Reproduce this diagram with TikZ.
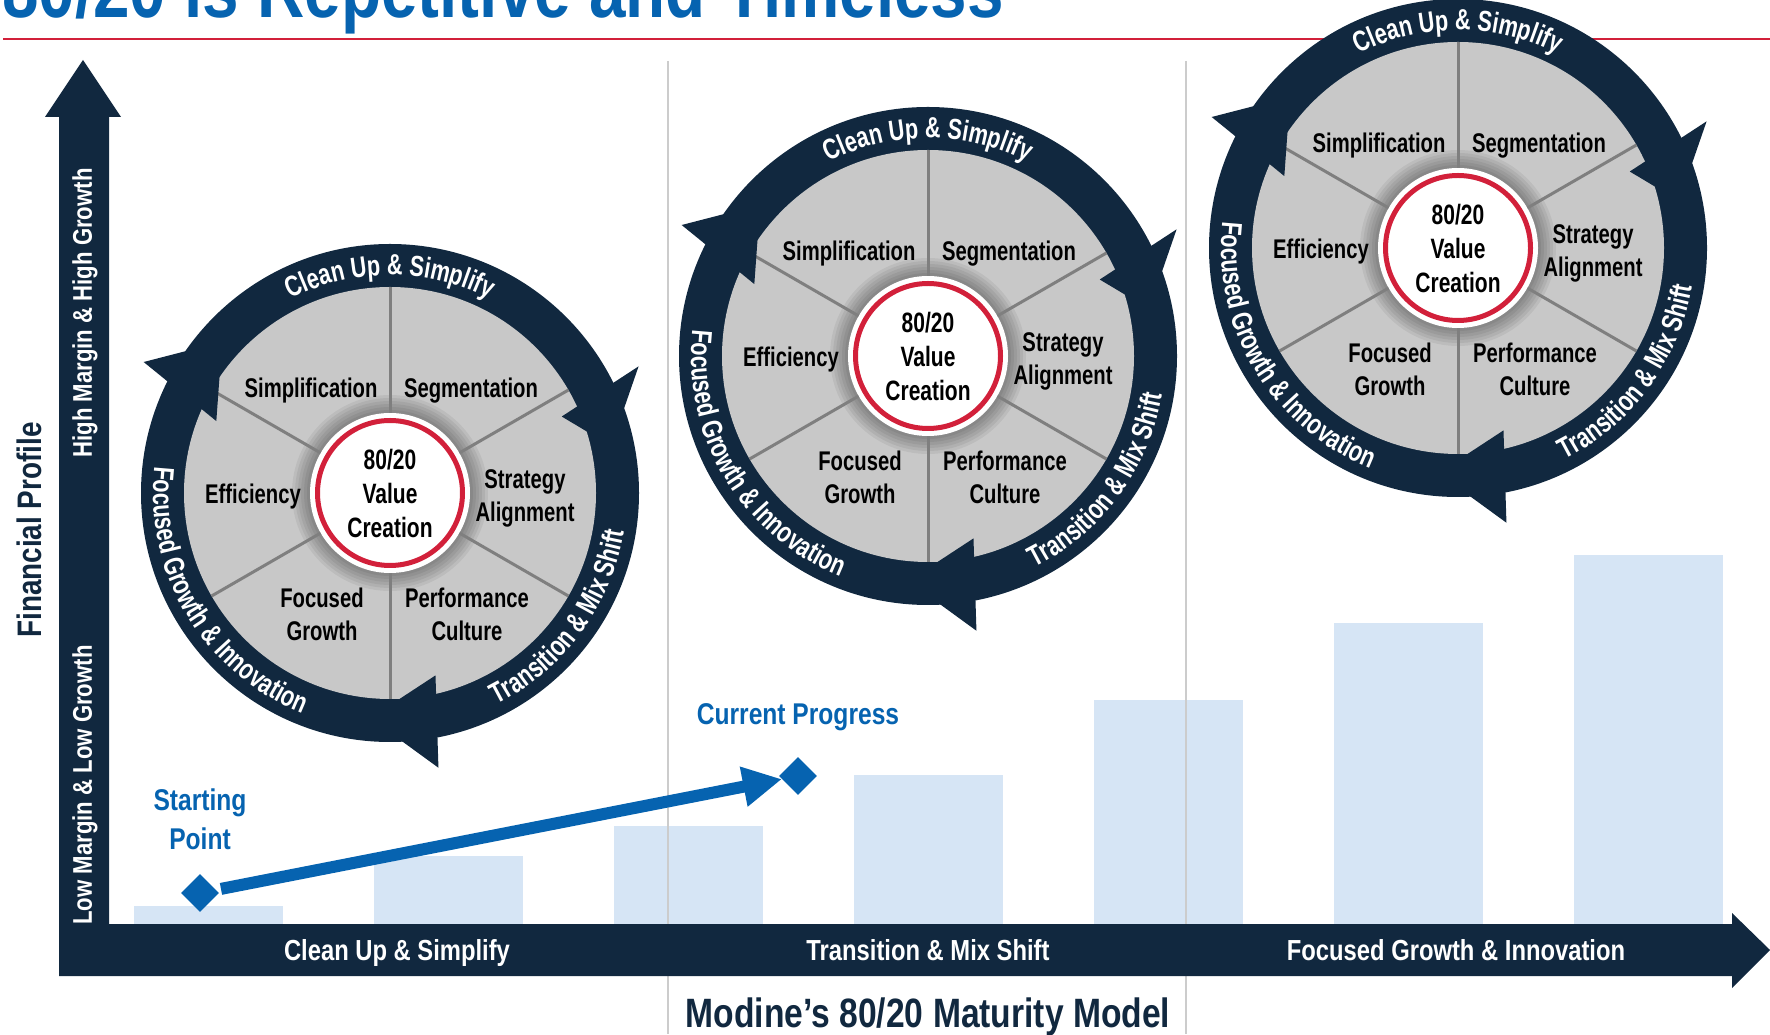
\documentclass[tikz,border=0pt]{standalone}
\usepackage{fontspec}
\newfontfamily\wheelface{Liberation Sans}[FakeStretch=0.75]
\newfontfamily\axisface{Liberation Sans}[FakeStretch=0.82]
\usetikzlibrary{positioning,shapes.geometric,arrows.meta}
\definecolor{navy}{HTML}{11283F}
\definecolor{mblue}{HTML}{0663B0}
\definecolor{mred}{HTML}{D2203A}
\definecolor{barblue}{HTML}{D6E5F5}
\definecolor{disk}{HTML}{C8C8C8}
\definecolor{spokegray}{HTML}{7F7F7F}
\definecolor{sepgray}{HTML}{CCCCCC}
\newcommand{\ringfont}{\wheelface\bfseries\fontsize{29}{29}\selectfont}
\newdimen\rimw
\newdimen\rimpos
\newdimen\rimmid
\makeatletter
\newcommand{\rimprep}[2]{%
  \setbox\@tempboxa\hbox{\ringfont #2}\rimw=\wd\@tempboxa
  \rimpos=-0.5\rimw
  \def\rimacc{}%
  \@tfor\rimch:=#2\do{%
    \setbox\@tempboxa\hbox{\ringfont\rimch}\rimw=\wd\@tempboxa
    \rimmid=\rimpos \advance\rimmid by 0.5\rimw
    \edef\rimacc{\rimacc\ifx\rimacc\@empty\else,\fi\expandafter\noexpand\rimch/\strip@pt\rimmid}%
    \advance\rimpos by \rimw
  }%
  \global\let#1\rimacc}
\makeatother
\newcommand{\rimrun}[4]{%
  \foreach \ch/\off in #4 {%
    \pgfmathsetmacro\rimang{#2-(#3)*\off/#1*57.29578}%
    \node[rimchar, rotate=\rimang-(#3)*90] at (\rimang:#1) {\ch};
  }}
\AtBeginDocument{%
  \rimprep{\rimtop}{Clean~Up~\&~Simplify}%
  \rimprep{\rimright}{Transition~\&~Mix~Shift}%
  \rimprep{\rimleft}{Focused~Growth~\&~Innovation}}

\begin{document}
\begin{tikzpicture}[x=1pt, y=1pt,
    seg/.style = {align=center, inner sep=0, font=\wheelface\bfseries\fontsize{27}{33}\selectfont},
    hub/.style = {circle, fill=white, minimum size=160pt, align=center, inner sep=0, font=\wheelface\bfseries\fontsize{28}{34}\selectfont},
    spoke/.style = {draw=spokegray, line width=3pt},
    rimchar/.style = {anchor=base, inner sep=0, text=white, font=\ringfont},
    axislbl/.style = {anchor=base, inner sep=0, text=white, font=\axisface\bfseries\fontsize{29}{29}\selectfont},
    ylbl/.style = {rotate=90, inner sep=0, text=white, font=\axisface\bfseries\fontsize{27}{27}\selectfont},
    gem/.style = {diamond, fill=mblue, minimum size=38pt, inner sep=0},
    note/.style = {align=center, inner sep=0, text=mblue, font=\axisface\bfseries\fontsize{30}{39}\selectfont},
    sepline/.style = {draw=sepgray, line width=1.5pt}]
    \useasboundingbox (0,0) rectangle (1770,1034);
    \clip (0,0) rectangle (1770,1034);
    \node[anchor=base west, inner sep=0, text=mblue, font=\axisface\bfseries\fontsize{80}{80}\selectfont] (title) at (2,1016) {80/20 is Repetitive and Timeless};
    \draw[mred, line width=2.5pt] (3,995) -- (1770,995);
    \foreach \i/\h in {0/128,1/178,2/208,3/259,4/334,5/411,6/479}
        \fill[barblue] (134+240*\i,110) rectangle ++(149,\h-110);
    \draw[sepline] (668,973) -- (668,0);
    \draw[sepline] (1186,973) -- (1186,0);
    \node[gem] (start) at (200,141) {};
    \node[gem] (current) at (798,258) {};
    \path[draw=mblue, line width=12pt, -{Triangle[length=39pt,width=38pt]}, shorten <=5pt] (start) -- (current);
    \node[note] (startlbl) [above=24pt of start] {Starting\\Point};
    \node[note] (progress) [above=26pt of current] {Current Progress};
    \fill[navy] (59,58) -- (1732,58) -- (1732,46) -- (1770,84) -- (1732,121) -- (1732,110) -- (109,110) -- (109,917) -- (121,917) -- (83,974) -- (45,917) -- (59,917) -- cycle;
    \node[ylbl] (high) at (85,721) {High Margin \& High Growth};
    \node[ylbl] (low) at (85,249) {Low Margin \& Low Growth};
    \node[rotate=90, inner sep=0, text=navy, font=\axisface\bfseries\fontsize{34}{34}\selectfont] (profile) at (29,504) {Financial Profile};
    \node[axislbl] (cleanx) at (397,74) {Clean Up \& Simplify};
    \node[axislbl] (mixx) at (928,74) {Transition \& Mix Shift};
    \node[axislbl] (growx) at (1456,74) {Focused Growth \& Innovation};
    \node[anchor=base, inner sep=0, text=navy, font=\axisface\bfseries\fontsize{41}{41}\selectfont] (model) at (928,7) {Modine’s 80/20 Maturity Model};
    \foreach \n/\cx/\cy in {1/390/541,2/928/678,3/1458/786}{
    \begin{scope}[shift={(\cx,\cy)}]
        \fill[navy] (0,0) circle (249);
        \fill[disk] (0,0) circle (206);
        \foreach \rr in {98,95,...,83}
            \fill[black, opacity=0.06] (0,0) circle (\rr);
        \node[hub] (hub\n) at (0,0) {80/20\\Value\\Creation};
        \draw[mred, line width=5pt] (hub\n.center) circle (72.5);
        \foreach \a in {30,90,...,330}
            \draw[spoke] (hub\n.\a) -- (\a:206);
        \foreach \ao/\ai/\at in {152/157.5/138,27/24/12,-80/-76/-95}
            \fill[navy] (\ao:279) -- (\at:226) -- (\ai:188) -- cycle;
        \node[seg] (simp\n) at (-79,102) {Simplification};
        \node[seg] (segm\n) at (81,102) {Segmentation};
        \node[seg] (effi\n) at (-137,-4) {Efficiency};
        \node[seg] (strat\n) at (135,-5) {Strategy\\Alignment};
        \node[seg] (grow\n) at (-68,-121) {Focused\\Growth};
        \node[seg] (perf\n) at (77,-121) {Performance\\Culture};
        \rimrun{218}{90}{1}{\rimtop}
        \rimrun{237}{-36.5}{-1}{\rimright}
        \rimrun{237}{211}{-1}{\rimleft}
    \end{scope}
    }
\end{tikzpicture}
\end{document}
